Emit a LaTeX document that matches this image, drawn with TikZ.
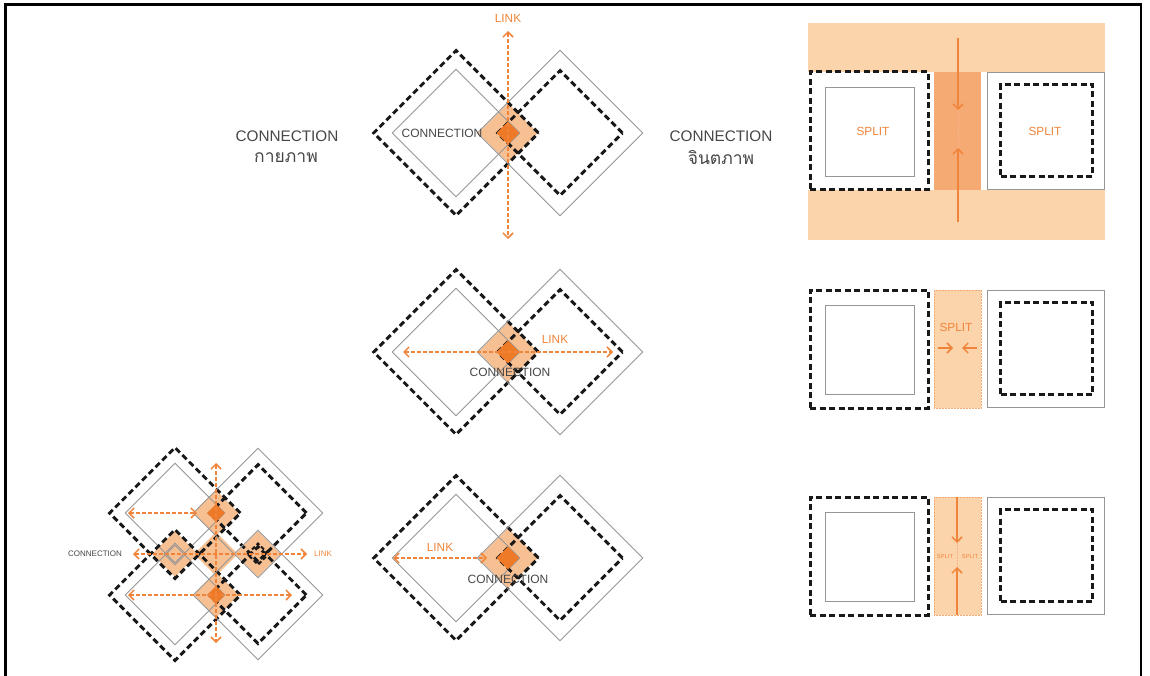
\documentclass[tikz,border=0pt]{standalone}
\usepackage{fontspec}
\setmainfont{Liberation Sans}
\newfontfamily\thaifont[Script=Thai]{Loma}
\usetikzlibrary{arrows.meta,shapes.geometric,positioning}
\definecolor{dk}{RGB}{25,25,25}
\definecolor{lg}{RGB}{150,150,150}
\definecolor{tg}{RGB}{70,70,70}
\definecolor{lo}{RGB}{247,192,146}
\definecolor{bo}{RGB}{252,212,172}
\definecolor{so}{RGB}{245,170,116}
\definecolor{do}{RGB}{238,122,40}
\definecolor{ao}{RGB}{240,132,58}

\begin{document}
\begin{tikzpicture}[x=1pt,y=-1pt,
  dd/.style={shape=diamond,draw=dk,line width=3,dash pattern=on 6pt off 3.5pt,inner sep=0pt},
  sd/.style={shape=diamond,draw=lg,line width=0.9,inner sep=0pt},
  ov/.style={shape=diamond,fill=lo,inner sep=0pt},
  co/.style={shape=diamond,fill=do,inner sep=0pt},
  db/.style={shape=rectangle,draw=dk,line width=3,dash pattern=on 6pt off 3.5pt,inner sep=0pt},
  sb/.style={shape=rectangle,draw=lg,line width=0.9,inner sep=0pt,fill=white},
  strip/.style={shape=rectangle,inner sep=0pt,minimum width=47,minimum height=118},
  lnk/.style={draw=ao,line width=1.5,dash pattern=on 4pt off 2pt,{Straight Barb[length=5pt,width=10pt]}-{Straight Barb[length=5pt,width=10pt]}},
  spl/.style={draw=ao,line width=1.5,-{Straight Barb[length=5pt,width=10pt]}},
  txt/.style={text=tg,inner sep=0pt,font=\fontsize{12}{12}\selectfont},
  otxt/.style={text=ao,inner sep=0pt,font=\fontsize{11.8}{12}\selectfont},
  head/.style={text=tg,inner sep=0pt,font=\fontsize{15.3}{16}\selectfont}]
\useasboundingbox (0,0) rectangle (1150,676);
\draw[line width=3] (4,5) -- (1142,5);
\draw[line width=3] (5.5,5) -- (5.5,676);
\draw[line width=2] (1141,5) -- (1141,676);

\node[head] (h1) at (287,136) {CONNECTION};
\node[head,font=\fontsize{17.5}{18}\selectfont] (h1t) at (286,158) {\thaifont กายภาพ};
\node[head] (h2) at (721,136) {CONNECTION};
\node[head,font=\fontsize{17.5}{18}\selectfont] (h2t) at (721,158) {\thaifont จินตภาพ};

\node[ov,minimum size=60] (o1) at (508,133) {};
\node[dd,minimum size=166] (a1) at (456,133) {};
\node[sd,minimum size=128] (b1) at (456,133) {};
\node[sd,minimum size=166] (c1) at (560,133) {};
\node[dd,minimum size=126] (d1) at (560,133) {};
\node[co,minimum size=23] (k1) at (508,133) {};
\coordinate (u1) at (508,31);
\coordinate (v1) at (508,239);
\draw[lnk] (u1) -- (v1);
\node[otxt] (n1) at (508,18) {LINK};
\node[txt] (t1) at (442,133) {CONNECTION};

\node[ov,minimum size=60] (o2) at (508,352) {};
\node[dd,minimum size=166] (a2) at (456,352) {};
\node[sd,minimum size=128] (b2) at (456,352) {};
\node[sd,minimum size=166] (c2) at (560,352) {};
\node[dd,minimum size=126] (d2) at (560,352) {};
\node[co,minimum size=23] (k2) at (508,352) {};
\coordinate (u2) at (403,352);
\coordinate (v2) at (613,352);
\draw[lnk] (u2) -- (v2);
\node[otxt] (n2) at (555,339) {LINK};
\node[txt] (t2) at (510,372) {CONNECTION};

\node[ov,minimum size=60] (o3) at (508,558) {};
\node[dd,minimum size=166] (a3) at (456,558) {};
\node[sd,minimum size=128] (b3) at (456,558) {};
\node[sd,minimum size=166] (c3) at (560,558) {};
\node[dd,minimum size=126] (d3) at (560,558) {};
\node[co,minimum size=23] (k3) at (508,558) {};
\coordinate (u3) at (393,558);
\coordinate (v3) at (487,558);
\draw[lnk] (u3) -- (v3);
\node[otxt] (n3) at (440,547) {LINK};
\node[txt] (t3) at (508,579) {CONNECTION};

\node[ov,minimum size=46] (x1) at (216,513) {};
\node[ov,minimum size=46] (x2) at (175,554) {};
\node[ov,minimum size=46] (x3) at (258,554) {};
\node[ov,minimum size=46] (x4) at (216,595) {};
\node[ov,minimum size=44] (x5) at (216,554) {};
\node[dd,minimum size=132] (ga) at (175,513) {};
\node[sd,minimum size=100] (gb) at (175,513) {};
\node[sd,minimum size=130] (gc) at (258,513) {};
\node[dd,minimum size=98] (gd) at (258,513) {};
\node[dd,minimum size=132] (ge) at (175,595) {};
\node[sd,minimum size=100] (gf) at (175,595) {};
\node[sd,minimum size=130] (gg) at (258,595) {};
\node[dd,minimum size=98] (gh) at (258,595) {};
\node[sd,minimum size=22] (y2) at (175,554) {};
\node[dd,line width=2,dash pattern=on 4pt off 2.5pt,minimum size=22] (y3) at (258,554) {};
\node[co,minimum size=18] (y1) at (216,513) {};
\node[co,minimum size=18] (y4) at (216,595) {};
\coordinate (m1) at (216,463);
\coordinate (m2) at (216,643);
\coordinate (m3) at (128,513);
\coordinate (m4) at (197,513);
\coordinate (m5) at (133,554);
\coordinate (m6) at (307,554);
\coordinate (m7) at (128,595);
\coordinate (m8) at (292,595);
\draw[lnk] (m1) -- (m2);
\draw[lnk] (m3) -- (m4);
\draw[lnk] (m5) -- (m6);
\draw[lnk] (m7) -- (m8);
\node[txt,font=\fontsize{8}{8}\selectfont] (t4) at (95,554) {CONNECTION};
\node[otxt,font=\fontsize{8}{8}\selectfont] (n4) at (323,554) {LINK};

\fill[bo] (808,23) rectangle (1105,72);
\fill[bo] (808,190) rectangle (1105,240);
\node[strip,fill=so] (s1) at (957.5,131) {};
\node[db,minimum size=118] (p1) at (869,131) {};
\node[sb,minimum size=89] (q1) at (869.5,131.5) {};
\node[sb,minimum size=117] (r1) at (1045.5,130.5) {};
\node[db,minimum size=92] (w1) at (1046.5,130.5) {};
\node[otxt] (z1) at (873,131) {SPLIT};
\node[otxt] (z2) at (1045,131) {SPLIT};
\coordinate (e1) at (958,38);
\coordinate (f1) at (958,110);
\coordinate (g1) at (958,222);
\coordinate (j1) at (958,148);
\draw[spl] (e1) -- (f1);
\draw[spl] (g1) -- (j1);
\draw[ao!60,densely dotted,line width=0.5] (f1) -- (j1);

\node[strip,fill=bo,draw=ao!70,densely dotted,line width=0.5] (s2) at (957.5,349) {};
\node[db,minimum size=118] (p2) at (869,349) {};
\node[sb,minimum size=89] (q2) at (869.5,349.5) {};
\node[sb,minimum size=117] (r2) at (1045.5,348.5) {};
\node[db,minimum size=92] (w2) at (1046.5,348.5) {};
\node[otxt] (z3) at (956,327) {SPLIT};
\coordinate (e2) at (938,348);
\coordinate (f2) at (953,348);
\coordinate (g2) at (977,348);
\coordinate (j2) at (962,348);
\draw[spl] (e2) -- (f2);
\draw[spl] (g2) -- (j2);

\node[strip,fill=bo,draw=ao!70,densely dotted,line width=0.5] (s3) at (957.5,556) {};
\node[db,minimum size=118] (p3) at (869,556) {};
\node[sb,minimum size=89] (q3) at (869.5,556.5) {};
\node[sb,minimum size=117] (r3) at (1045.5,555.5) {};
\node[db,minimum size=92] (w3) at (1046.5,555.5) {};
\coordinate (e3) at (957,497);
\coordinate (f3) at (957,543);
\coordinate (g3) at (957,615);
\coordinate (j3) at (957,567);
\draw[spl] (e3) -- (f3);
\draw[spl] (g3) -- (j3);
\draw[ao!60,densely dotted,line width=0.5] (f3) -- (j3);
\node[otxt,font=\fontsize{5.8}{6}\selectfont] (z4) at (945,556) {SPLIT};
\node[otxt,font=\fontsize{5.8}{6}\selectfont] (z5) at (970,556) {SPLIT};
\end{tikzpicture}
\end{document}
